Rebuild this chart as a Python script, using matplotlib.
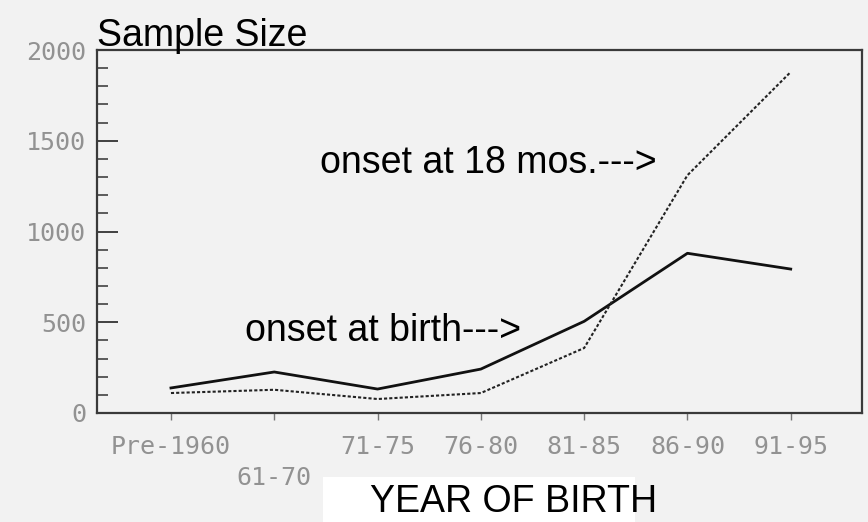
import matplotlib
matplotlib.use("Agg")
import matplotlib.pyplot as plt
from matplotlib.patches import Rectangle

# Data
periods = ["Pre-1960", "61-70", "71-75", "76-80", "81-85", "86-90", "91-95"]
onset_birth = [138, 226, 132, 242, 505, 880, 793]
onset_18mos = [110, 128, 77, 110, 358, 1310, 1879]
y_ticks = [0, 500, 1000, 1500, 2000]

bg = "#f2f2f2"
tick_grey = "#929292"
tick_font = "DejaVu Sans Mono"
font = "Liberation Sans"

fig = plt.figure(figsize=(8.68, 5.22), dpi=100, facecolor=bg)
ax = fig.add_axes([97 / 868, 1 - 413 / 522, (862 - 97) / 868, (413 - 50) / 522])
ax.set_facecolor(bg)

# white strip behind the x-axis title
fig.patches.append(Rectangle((323 / 868, 0), (635 - 323) / 868, 45 / 522,
                             transform=fig.transFigure, facecolor="white",
                             edgecolor="none", zorder=0))

x = list(range(len(periods)))
ax.plot(x, onset_birth, color="#111111", lw=2.0)
ax.plot(x, onset_18mos, color="#222222", lw=1.5, linestyle=(0, (1.5, 1.0)))

ax.set_xlim(-0.716, 6.69)
ax.set_ylim(0, 2000)

ax.set_yticks(y_ticks)
ax.set_yticks(range(0, 2001, 100), minor=True)
ax.tick_params(axis="y", which="major", direction="in", length=15, width=1.3,
               color="#333333", labelsize=18, labelcolor=tick_grey, pad=8)
ax.tick_params(axis="y", which="minor", direction="in", length=8, width=1.1,
               color="#333333")
for lab in ax.get_yticklabels():
    lab.set_family(tick_font)

ax.set_xticks(x)
ax.set_xticklabels([])
ax.tick_params(axis="x", which="major", direction="out", length=5, width=1.0,
               color="#777777")
# staggered category labels (61-70 sits lower)
trans = ax.get_xaxis_transform()
for i, lab in enumerate(periods):
    ypos = -0.179 if lab == "61-70" else -0.094
    ax.text(i, ypos, lab, transform=trans, ha="center", va="center",
            fontsize=18, family=tick_font, color=tick_grey, clip_on=False)

for s in ax.spines.values():
    s.set_color("#3a3a3a")
    s.set_linewidth(1.6)

fig.text(97 / 868, 1 - 46 / 522, "Sample Size", fontsize=27, family=font,
         ha="left", va="baseline", color="black")
fig.text(370 / 868, 2 / 522, "YEAR OF BIRTH", fontsize=27, family=font,
         ha="left", va="bottom", color="black")

ax.text(1.44, 1375, "onset at 18 mos.--->", fontsize=27, family=font,
        ha="left", va="center", color="black")
ax.text(0.72, 452, "onset at birth--->", fontsize=27, family=font,
        ha="left", va="center", color="black")

fig.savefig("out.png", dpi=100, facecolor=bg)
